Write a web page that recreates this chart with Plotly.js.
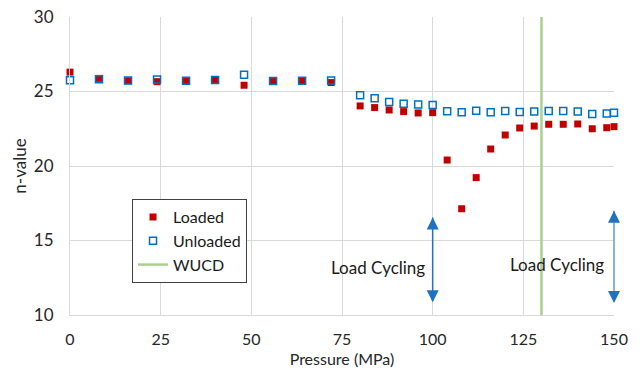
<!DOCTYPE html>
<html>
<head>
<meta charset="utf-8">
<script src="https://cdn.plot.ly/plotly-3.0.1.min.js"></script>
<style>
  html, body { margin: 0; padding: 0; background: #ffffff; }
  #chart { width: 641px; height: 371px; }
</style>
</head>
<body>
<div id="chart"></div>
<script>
// Pressure steps (MPa)
const pressure = [0, 8, 16, 24, 32, 40, 48, 56, 64, 72,
  80, 84, 88, 92, 96, 100, 104, 108, 112, 116, 120, 124, 128, 132, 136, 140, 144, 148, 150];

// n-value measured under load
const loaded = [26.3, 25.88, 25.72, 25.66, 25.68, 25.78, 25.42, 25.7, 25.68, 25.6,
  24.03, 23.92, 23.76, 23.65, 23.56, 23.58, 20.4, 17.13, 19.22, 21.14, 22.08, 22.55, 22.68, 22.8, 22.8, 22.82, 22.5, 22.57, 22.64];

// n-value measured after unloading
const unloaded = [25.75, 25.82, 25.73, 25.8, 25.72, 25.78, 26.13, 25.7, 25.72, 25.73,
  24.74, 24.54, 24.3, 24.18, 24.12, 24.1, 23.67, 23.6, 23.71, 23.6, 23.69, 23.62, 23.65, 23.69, 23.69, 23.65, 23.49, 23.53, 23.58];

// WUCD marker position
const wucdPressure = 130;
const yRange = [10, 30];

// Load-cycling arrows: [pressure, lower n, upper n]
const cyclingArrows = [[100, 10.85, 16.55], [150, 10.8, 17.0]];
const cyclingLabels = [[84.9, 13.2, 'Load Cycling'], [134.3, 13.4, 'Load Cycling']];

const FONT = 'Lato, "Open Sans", "Liberation Sans", sans-serif';

const traces = [
  {
    x: pressure, y: loaded, name: 'Loaded', type: 'scatter', mode: 'markers', cliponaxis: false,
    marker: { symbol: 'square', size: 7, color: '#C00000' }
  },
  {
    x: pressure, y: unloaded, name: 'Unloaded', type: 'scatter', mode: 'markers', cliponaxis: false,
    marker: { symbol: 'square-open', size: 7, color: '#0070C0', line: { width: 1.5, color: '#0070C0' } }
  },
  {
    x: [wucdPressure, wucdPressure], y: yRange, name: 'WUCD', type: 'scatter', mode: 'lines',
    line: { color: '#A9D18E', width: 2.5 }
  }
];

const headColor = '#1F72C0';
const shaftColors = ['#1F72C0', '#5B9FD8'];
const annotations = [];
cyclingArrows.forEach(function (a, i) {
  // shaft
  annotations.push({
    x: a[0], y: a[2], ax: a[0], ay: a[1], xref: 'x', yref: 'y', axref: 'x', ayref: 'y',
    text: '', showarrow: true, arrowhead: 0, arrowwidth: 1.5, arrowcolor: shaftColors[i]
  });
  // heads at both ends
  annotations.push({
    x: a[0], y: a[2], xref: 'x', yref: 'y', ax: 0, ay: 10,
    text: '', showarrow: true, arrowhead: 2, arrowsize: 1.6, arrowwidth: 1.5, arrowcolor: headColor
  });
  annotations.push({
    x: a[0], y: a[1], xref: 'x', yref: 'y', ax: 0, ay: -10,
    text: '', showarrow: true, arrowhead: 2, arrowsize: 1.6, arrowwidth: 1.5, arrowcolor: headColor
  });
});
cyclingLabels.forEach(function (l) {
  annotations.push({
    x: l[0], y: l[1], xref: 'x', yref: 'y', text: l[2], showarrow: false,
    font: { family: FONT, size: 17, color: '#1a1a1a' }
  });
});

const layout = {
  width: 641, height: 371,
  margin: { l: 70, r: 27, t: 17, b: 56 },
  paper_bgcolor: '#ffffff', plot_bgcolor: '#ffffff',
  font: { family: FONT, size: 16, color: '#262626' },
  showlegend: true,
  legend: {
    x: 0.114, y: 0.389, xanchor: 'left', yanchor: 'top',
    bgcolor: '#ffffff', bordercolor: '#404040', borderwidth: 1,
    font: { family: FONT, size: 16, color: '#1a1a1a' },
    tracegroupgap: 0
  },
  xaxis: {
    range: [0, 150], tickvals: [0, 25, 50, 75, 100, 125, 150],
    showgrid: true, gridcolor: '#D9D9D9', gridwidth: 1,
    zeroline: false, showline: true, linecolor: '#D9D9D9', linewidth: 1,
    ticks: '', ticklen: 0, ticklabelstandoff: 10,
    tickfont: { family: FONT, size: 16, color: '#262626' },
    title: { text: 'Pressure (MPa)', font: { family: FONT, size: 16, color: '#262626' }, standoff: 6 }
  },
  yaxis: {
    range: yRange, tickvals: [10, 15, 20, 25, 30],
    showgrid: true, gridcolor: '#D9D9D9', gridwidth: 1,
    zeroline: false, showline: true, linecolor: '#D9D9D9', linewidth: 1,
    ticks: '', ticklen: 0, ticklabelstandoff: 12,
    tickfont: { family: FONT, size: 17, color: '#262626' },
    title: { text: 'n-value', font: { family: FONT, size: 17, color: '#262626' }, standoff: 2 }
  },
  annotations: annotations
};

Plotly.newPlot('chart', traces, layout, { displayModeBar: false, staticPlot: true });
</script>
</body>
</html>
